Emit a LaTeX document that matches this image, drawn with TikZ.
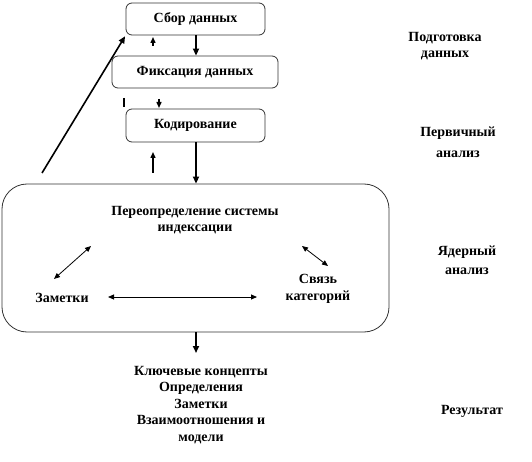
\documentclass[tikz,border=0pt]{standalone}
\usepackage{fontspec}
\setmainfont{Liberation Serif}
\usetikzlibrary{arrows.meta}
\begin{document}
\begin{tikzpicture}[x=1pt,y=-1pt,
  every node/.style={font=\bfseries\fontsize{14}{16.5}\selectfont, align=center, inner sep=0pt},
  stagebox/.style={draw=black!80, line width=0.8pt, rounded corners=6pt},
  thickarr/.style={-{Triangle[length=7pt,width=6pt]}, line width=1.6pt},
  smallarr/.style={-{Triangle[length=6pt,width=5pt]}, line width=1.4pt},
  dblarr/.style={{Triangle[length=6pt,width=5pt]}-{Triangle[length=6pt,width=5pt]}, line width=0.8pt}]
\useasboundingbox (0,0) rectangle (532,462);
% boxes
\node[stagebox, minimum width=139pt, minimum height=32pt] (sbor) at (195.5,19) {Сбор данных};
\node[stagebox, minimum width=166pt, minimum height=32pt] (fix) at (195,72) {Фиксация данных};
\node[stagebox, minimum width=139pt, minimum height=33pt] (kod) at (195.5,125.5) {Кодирование};
\node[draw=black!80, line width=0.8pt, rounded corners=25pt, minimum width=387pt, minimum height=148pt] (big) at (195.5,258) {};
% inner texts
\node (pere) at (195,220) {Переопределение системы\\индексации};
\node (zam) at (62,298) {Заметки};
\node (svyaz) at (318,289) {Связь\\категорий};
% result
\node[anchor=north] (res) at (201,366) {Ключевые концепты\\Определения\\Заметки\\Взаимоотношения и\\модели};
% side labels
\node (l1) at (445,46) {Подготовка\\данных};
\node[font=\bfseries\fontsize{14}{21}\selectfont] (l2) at (458,142) {Первичный\\анализ};
\node[font=\bfseries\fontsize{14}{19}\selectfont] (l3) at (467,260) {Ядерный\\анализ};
\node (l4) at (472,411) {Результат};
% coordinates for free arrows
\coordinate (diagStart) at (42,173);
\coordinate (upAtail) at (153,46);
\coordinate (upAtip) at (153,37);
\coordinate (tickA) at (124,98);
\coordinate (tickB) at (124,107);
\coordinate (dnBtail) at (159,99);
\coordinate (dnBtip) at (159,108);
\coordinate (upCtail) at (153,173);
\coordinate (upCtip) at (153,152);
\coordinate (dl1) at (54,279);
\coordinate (dl2) at (91,246);
\coordinate (dr1) at (302,246);
\coordinate (dr2) at (328,266);
\coordinate (hA) at (108,297);
\coordinate (hB) at (257,297);
% arrows
\draw[thickarr] (sbor.south -| 196,0) -- (fix.north -| 196,0);
\draw[thickarr] (kod.south -| 196,0) -- (big.north -| 196,0);
\draw[thickarr, shorten >=13pt] (big.south -| 196,0) -- (res.north -| 196,0);
\draw[thickarr, shorten >=1pt] (diagStart) -- (sbor.south west);
\draw[smallarr] (upAtail) -- (upAtip);
\draw[line width=1.6pt] (tickA) -- (tickB);
\draw[smallarr] (dnBtail) -- (dnBtip);
\draw[smallarr] (upCtail) -- (upCtip);
\draw[dblarr] (dl1) -- (dl2);
\draw[dblarr] (dr1) -- (dr2);
\draw[dblarr] (hA) -- (hB);
\end{tikzpicture}
\end{document}
